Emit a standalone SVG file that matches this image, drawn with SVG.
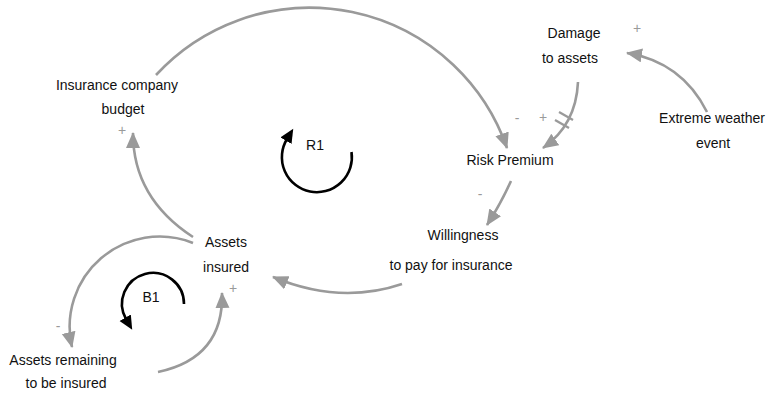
<svg xmlns="http://www.w3.org/2000/svg" width="767" height="393" viewBox="0 0 767 393">
  <style>
    .label { font-family: "Liberation Sans", Arial, sans-serif; font-size: 14px; fill: #111; text-anchor: middle; }
    .sign { font-family: "Liberation Sans", Arial, sans-serif; font-size: 14px; fill: #9a9a9a; text-anchor: middle; }
    .link { fill: none; stroke: #9a9a9a; stroke-width: 2.6; marker-end: url(#grayHead); }
    .loop { fill: none; stroke: #000; stroke-width: 2.6; marker-end: url(#blackHead); }
    .delay { stroke: #9a9a9a; stroke-width: 2.2; }
  </style>
  <defs>
    <marker id="grayHead" markerUnits="userSpaceOnUse" markerWidth="17" markerHeight="15" refX="15" refY="7" orient="auto">
      <path d="M0,0 L16,7 L0,14 Z" fill="#9a9a9a"/>
    </marker>
    <marker id="blackHead" markerUnits="userSpaceOnUse" markerWidth="16" markerHeight="15" refX="2" refY="6.5" orient="auto">
      <path d="M0,0 L14,6.5 L0,13 Z" fill="#000"/>
    </marker>
  </defs>

  <rect width="767" height="393" fill="#fff"/>

  <!-- causal links -->
  <g id="connectors">
    <path class="link" d="M156,75 A209,209 0 0 1 507,148"/>
    <path class="link" d="M578,82 Q576,125 543,148"/>
    <line class="delay" x1="559" y1="112" x2="573" y2="120"/>
    <line class="delay" x1="555" y1="120" x2="569" y2="128"/>
    <path class="link" d="M707,112 Q682,62 627,53"/>
    <path class="link" d="M511,181 Q500,205 487,225"/>
    <path class="link" d="M402,284 Q340,305 273,277"/>
    <path class="link" d="M193,237 Q133,198 133,133"/>
    <path class="link" d="M193,243 A90,90 0 0 0 72,347"/>
    <path class="link" d="M158,372 Q224,358 222,293"/>
  </g>

  <!-- polarity signs -->
  <g id="polarities">
    <text class="sign" x="637" y="33">+</text>
    <text class="sign" x="517" y="123">-</text>
    <text class="sign" x="543" y="122">+</text>
    <text class="sign" x="122" y="135">+</text>
    <text class="sign" x="480" y="199">-</text>
    <text class="sign" x="233" y="293">+</text>
    <text class="sign" x="58" y="331">-</text>
  </g>

  <!-- loop markers -->
  <g id="loop-R1">
    <path class="loop" d="M351.5,152 A35,35 0 1 1 287,139"/>
    <text class="label" x="315" y="150">R1</text>
  </g>
  <g id="loop-B1">
    <path class="loop" d="M184,304 A31,31 0 1 0 126.2,319.5"/>
    <text class="label" x="151" y="302">B1</text>
  </g>

  <!-- variables -->
  <g id="damage-to-assets">
    <text class="label" x="574" y="38">Damage</text>
    <text class="label" x="570" y="63">to assets</text>
  </g>
  <g id="extreme-weather-event">
    <text class="label" x="712" y="123">Extreme weather</text>
    <text class="label" x="713" y="148">event</text>
  </g>
  <g id="risk-premium">
    <text class="label" x="510" y="165">Risk Premium</text>
  </g>
  <g id="willingness-to-pay">
    <text class="label" x="463" y="240">Willingness</text>
    <text class="label" x="451" y="270">to pay for insurance</text>
  </g>
  <g id="insurance-company-budget">
    <text class="label" x="117" y="90">Insurance company</text>
    <text class="label" x="123" y="114">budget</text>
  </g>
  <g id="assets-insured">
    <text class="label" x="226" y="247">Assets</text>
    <text class="label" x="226" y="272">insured</text>
  </g>
  <g id="assets-remaining">
    <text class="label" x="63" y="365">Assets remaining</text>
    <text class="label" x="66" y="388">to be insured</text>
  </g>
</svg>
